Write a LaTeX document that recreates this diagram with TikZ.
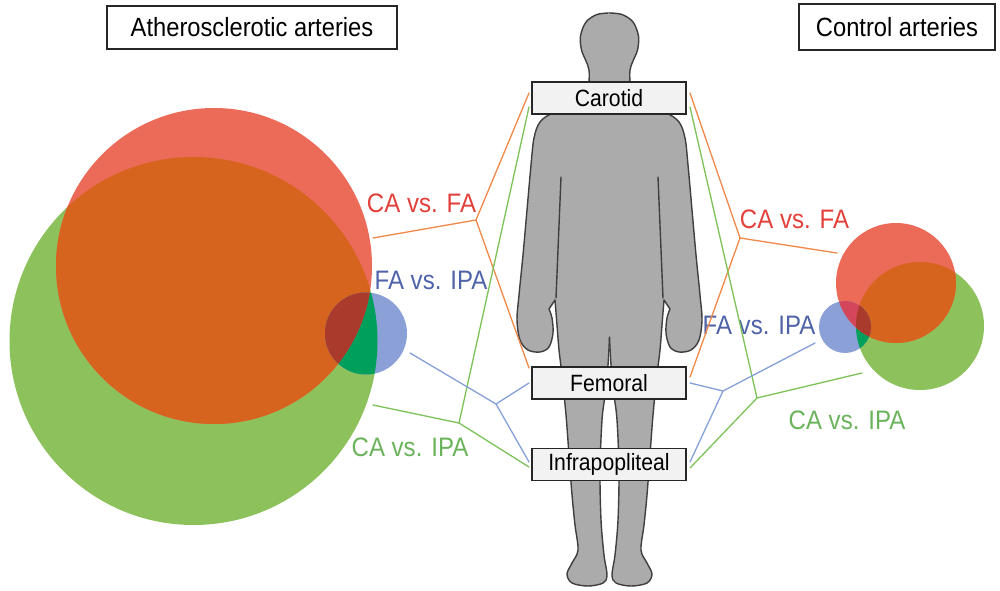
\documentclass[tikz,border=0pt]{standalone}
\usepackage{fontspec}
\newfontfamily\lbl[FakeStretch=0.9]{Liberation Sans}
\usepackage{tikz}
\definecolor{vred}{HTML}{EC6A58}
\definecolor{vgreen}{HTML}{8CC15C}
\definecolor{vorange}{HTML}{D6641F}
\definecolor{vblue}{HTML}{8AA0D6}
\definecolor{vteal}{HTML}{00A05C}
\definecolor{vdark}{HTML}{A93A2C}
\definecolor{vcrim}{HTML}{D4475A}
\definecolor{tred}{HTML}{E2403A}
\definecolor{tblue}{HTML}{4F63A8}
\definecolor{tgreen}{HTML}{6BB35A}
\definecolor{lorange}{HTML}{F08A4B}
\definecolor{lgreen}{HTML}{7DC35A}
\definecolor{lblue}{HTML}{86A0D8}
\definecolor{bodyfill}{HTML}{ABABAB}
\definecolor{bodyline}{HTML}{3F3F3F}
\definecolor{boxbg}{HTML}{F2F2F2}
\tikzset{
  titlebox/.style={draw=black!85, line width=1.1pt, fill=white, inner sep=0pt, minimum height=0.86cm, font=\lbl\fontsize{15}{18}\selectfont},
  partbox/.style={draw=black!85, line width=0.8pt, fill=boxbg, inner sep=0pt, minimum width=3.08cm, minimum height=0.64cm, font=\lbl\fontsize{13.4}{16}\selectfont},
  lab/.style={inner sep=0pt, font=\lbl\fontsize{15.2}{18}\selectfont},
  link/.style={line width=0.75pt, line cap=round, line join=round},
  outline/.style={draw=bodyline, line width=0.8pt, line cap=round, line join=round}
}
% green circle, red circle, blue circle
\newcommand{\vennset}[3]{%
  \fill[vgreen] #1;
  \fill[vred] #2;
  \begin{scope} \clip #2; \fill[vorange] #1; \end{scope}
  \fill[vblue] #3;
  \begin{scope} \clip #3;
    \fill[vteal] #1;
    \fill[vcrim] #2;
    \clip #2; \fill[vdark] #1;
  \end{scope}}
\def\halfbody{plot[smooth,tension=.55] coordinates {(609.5,13) (597,14.5) (586,22) (580.5,36) (581.5,50) (586,61) (589,70) (589,84) (588,100) (575,108) (553,113) (540,122) (534,138) (531,165) (527,210) (523,255) (519,295) (517,320) (520,340) (528,350) (540,352) (549,347) (553,333) (552,318) (549,309)}
  -- plot[smooth,tension=.55] coordinates {(555,300) (557,325) (559,350) (562,375) (566,415) (569,455) (572,495) (575,525) (578,550) (572,563) (567,574) (572,583) (588,586) (603,583) (607,575) (604,555) (601,520) (600,470) (602,420) (605,395) (608,365) (609.5,337)}}

\begin{document}
\begin{tikzpicture}[x=0.02cm, y=-0.02cm]
  \useasboundingbox (0,0) rectangle (1000,591);

  \vennset{(193.5,341) circle (184)}{(214,266) circle (158)}{(366,333.5) circle (41)}
  \vennset{(920,326) circle (64)}{(896,283) circle (60)}{(845,327) circle (26)}

  % body
  \foreach \s/\d in {0/1, 1219/-1}{
    \begin{scope}[shift={(\s,0)}, xscale=\d]
      \fill[bodyfill] \halfbody -- (611,337) -- (611,13) -- cycle;
      \draw[outline] \halfbody;
      \draw[outline] (561,177) -- (556,298);
    \end{scope}
  }

  \node[titlebox, minimum width=5.8cm] (athero) at (252,27.5) {Atherosclerotic arteries};
  \node[titlebox, minimum width=3.92cm, minimum height=0.92cm] (control) at (897,27) {Control arteries};
  \node[partbox] (car) at (609,98) {Carotid};
  \node[partbox] (fem) at (609,383) {Femoral};
  \node[partbox] (ipa) at (609,464.5) {Infrapopliteal};

  \node[lab, text=tred] (lcafa) at (421.5,203) {CA vs. FA};
  \node[lab, text=tblue] (lfaipa) at (431,280) {FA vs. IPA};
  \node[lab, text=tgreen] (lcaipa) at (410,447) {CA vs. IPA};
  \node[lab, text=tred] (rcafa) at (794.5,219) {CA vs. FA};
  \node[lab, text=tblue] (rfaipa) at (759,325) {FA vs. IPA};
  \node[lab, text=tgreen] (rcaipa) at (847,420) {CA vs. IPA};

  % connector ends
  \coordinate (carLo) at (529,93);  \coordinate (carLg) at (529,107);
  \coordinate (femLo) at (529,368); \coordinate (femLb) at (529,383);
  \coordinate (ipaLb) at (529,462); \coordinate (ipaLg) at (529,467);
  \coordinate (carRo) at (690,93);  \coordinate (carRg) at (690,107);
  \coordinate (femRo) at (690,377); \coordinate (femRb) at (690,383);
  \coordinate (ipaRb) at (690,462); \coordinate (ipaRg) at (690,468);
  \coordinate (vLo) at (373,238); \coordinate (vLb) at (410,353); \coordinate (vLg) at (373,405);
  \coordinate (vRo) at (837,253); \coordinate (vRb) at (815,343); \coordinate (vRg) at (862,373);
  \coordinate (jLo) at (476,220); \coordinate (jLb) at (496,404); \coordinate (jLg) at (459,423);
  \coordinate (jRo) at (740,238); \coordinate (jRb) at (723,391); \coordinate (jRg) at (757,398);

  \draw[link, lorange] (vLo) -- (jLo) -- (carLo) (jLo) -- (femLo);
  \draw[link, lgreen] (vLg) -- (jLg) -- (carLg) (jLg) -- (ipaLg);
  \draw[link, lblue] (vLb) -- (jLb) -- (femLb) (jLb) -- (ipaLb);
  \draw[link, lorange] (vRo) -- (jRo) -- (carRo) (jRo) -- (femRo);
  \draw[link, lgreen] (vRg) -- (jRg) -- (carRg) (jRg) -- (ipaRg);
  \draw[link, lblue] (vRb) -- (jRb) -- (femRb) (jRb) -- (ipaRb);
\end{tikzpicture}
\end{document}
